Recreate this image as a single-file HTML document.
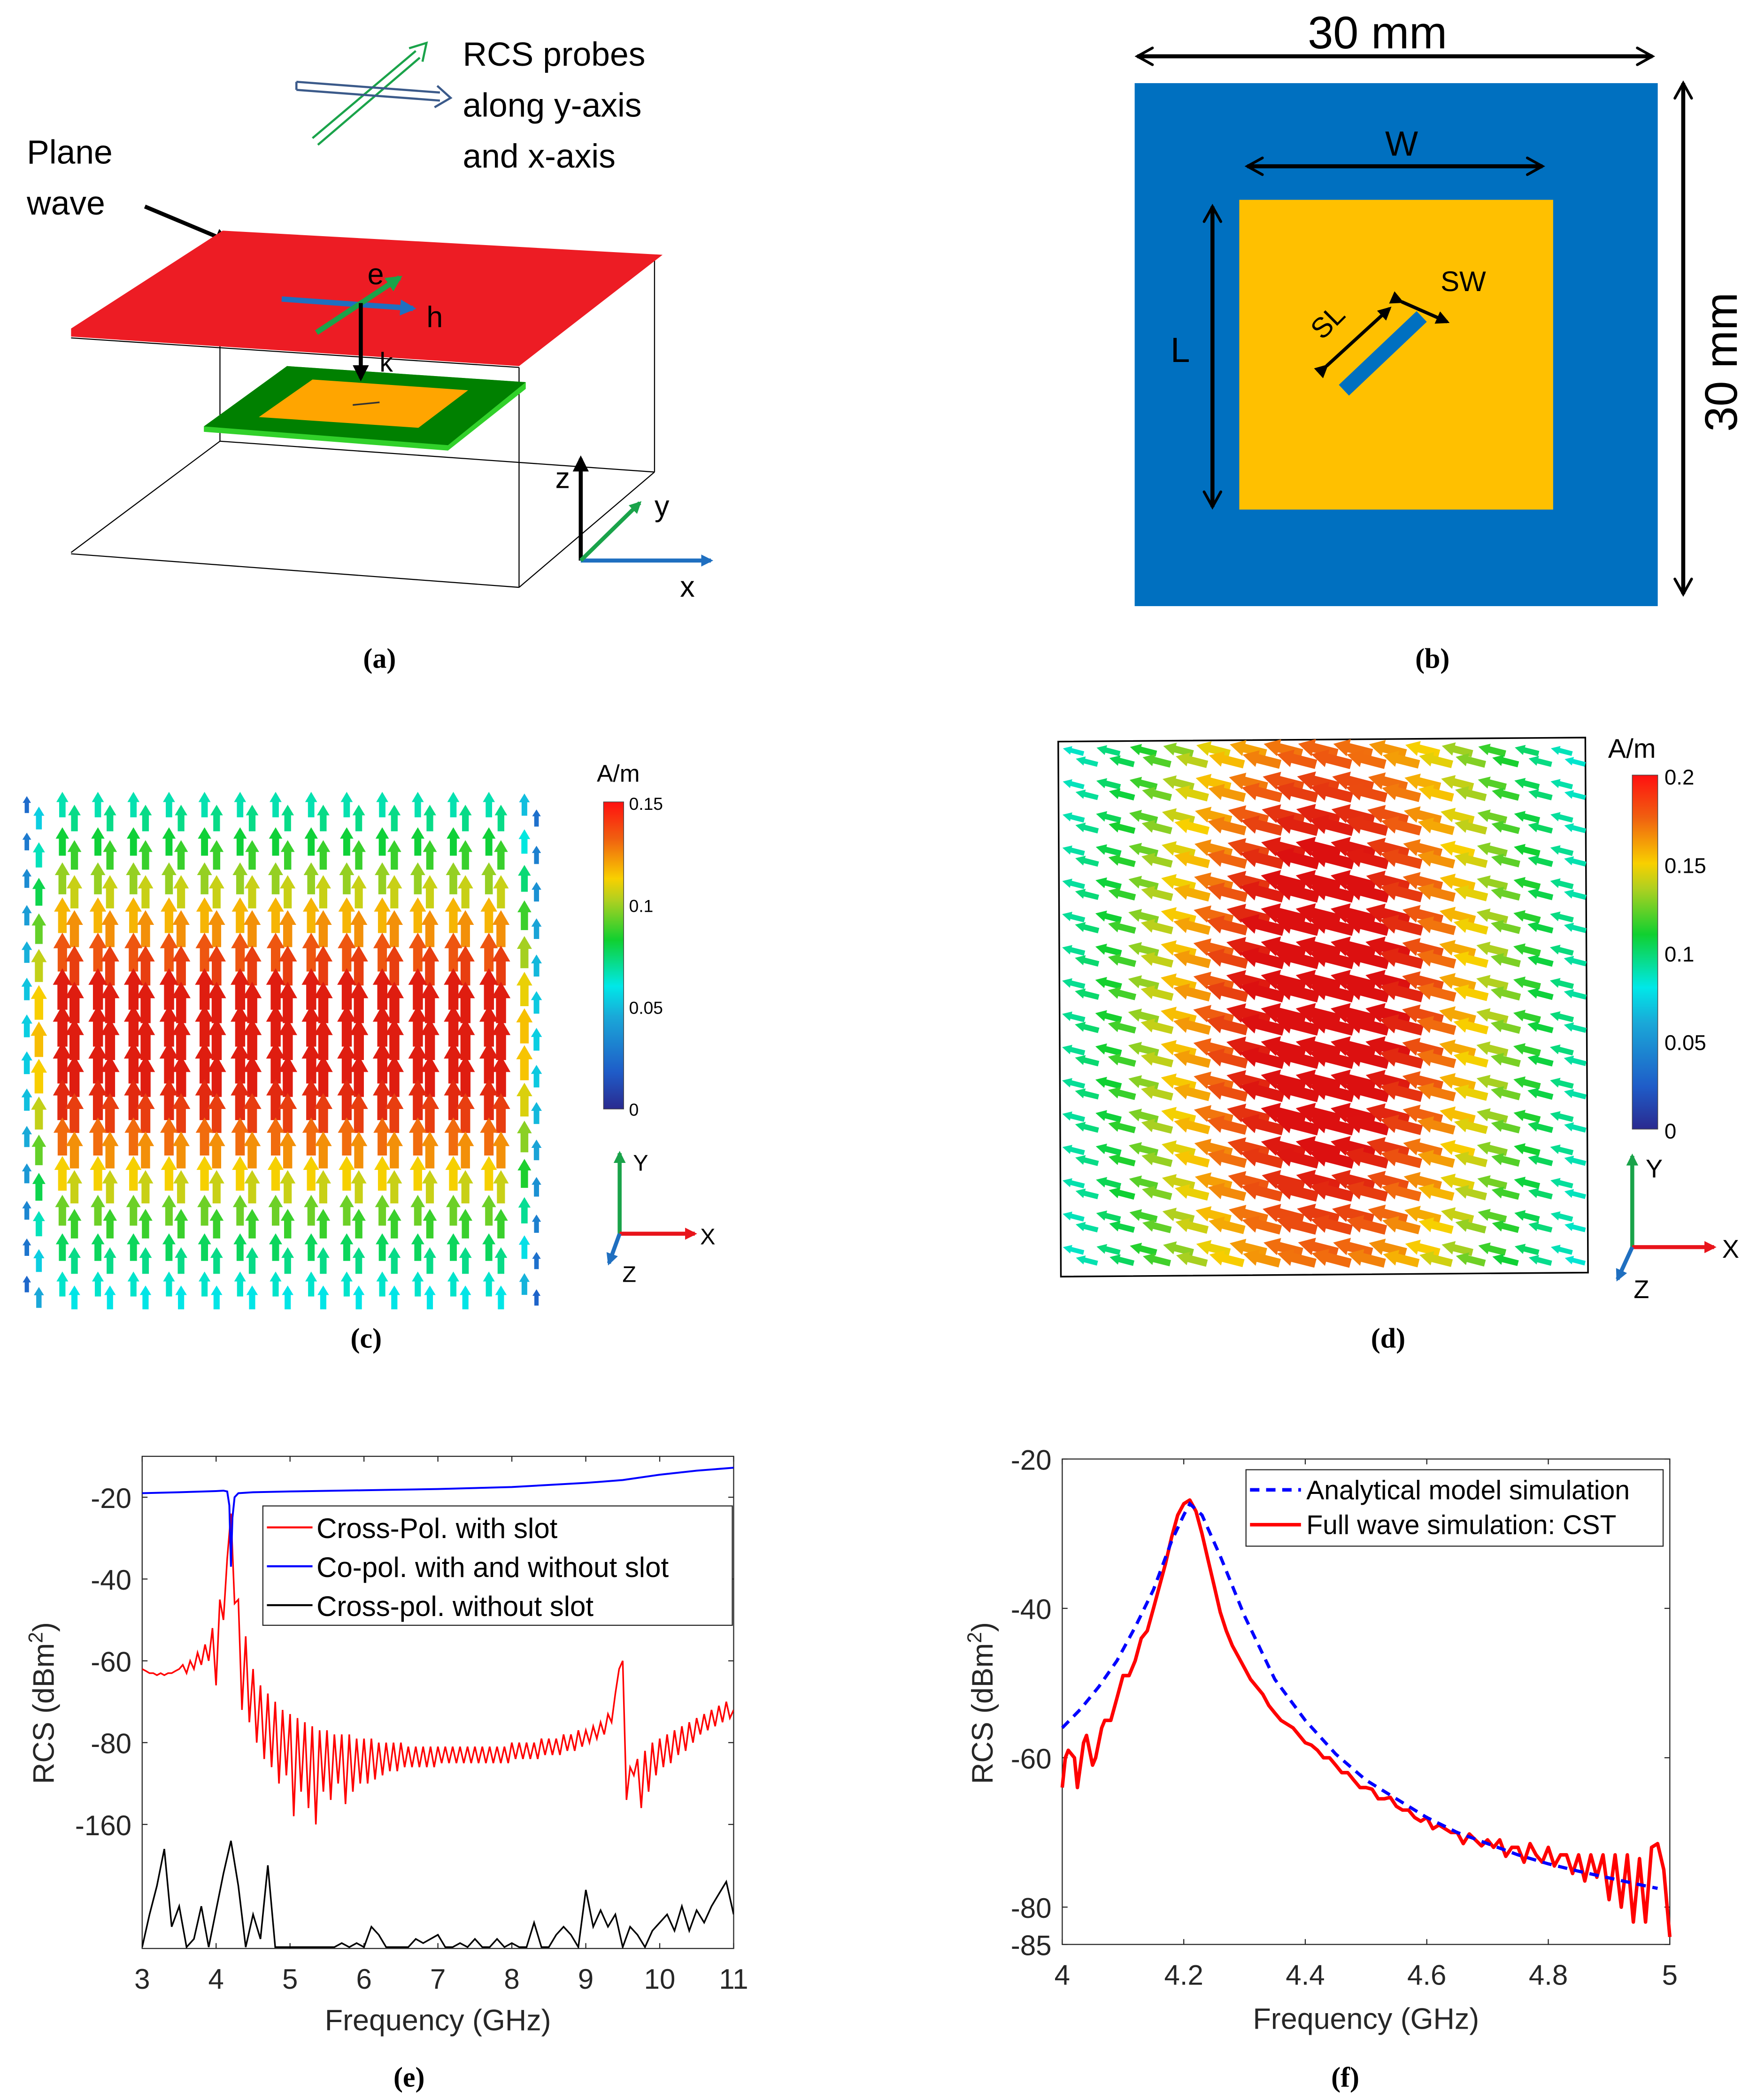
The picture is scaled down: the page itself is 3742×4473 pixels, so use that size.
<!DOCTYPE html>
<html><head><meta charset="utf-8"><style>
html,body{margin:0;padding:0;background:#fff}
svg{display:block}
.t{font-family:"Liberation Sans",sans-serif}
.cap{font-family:"Liberation Serif",serif;font-weight:bold;font-size:21px}
</style></head><body>
<svg id="fig" xmlns="http://www.w3.org/2000/svg" width="3742" height="4473" viewBox="0 0 1310 1566" preserveAspectRatio="none">
<defs>
<marker id="ah" viewBox="0 0 10 10" refX="8" refY="5" markerWidth="4" markerHeight="4" orient="auto"><path d="M0,0 L10,5 L0,10 z" fill="#000"/></marker>
<marker id="ahb" viewBox="0 0 10 10" refX="8" refY="5" markerWidth="3" markerHeight="3" orient="auto"><path d="M0,0 L10,5 L0,10 z" fill="#1f6fc0"/></marker>
<marker id="ahg" viewBox="0 0 10 10" refX="8" refY="5" markerWidth="3" markerHeight="3" orient="auto"><path d="M0,0 L10,5 L0,10 z" fill="#1aa34a"/></marker>
<marker id="ahr" viewBox="0 0 10 10" refX="8" refY="5" markerWidth="3" markerHeight="3" orient="auto"><path d="M0,0 L10,5 L0,10 z" fill="#e8141b"/></marker>
<marker id="oa" viewBox="0 0 12 12" refX="10" refY="6" markerWidth="5" markerHeight="5" orient="auto-start-reverse"><path d="M1,1 L10,6 L1,11" fill="none" stroke="#000" stroke-width="1.6" stroke-linecap="round"/></marker>
<linearGradient id="jet1" x1="0" y1="1" x2="0" y2="0">
<stop offset="0" stop-color="#2a2a8f"/><stop offset="0.12" stop-color="#1f5cc8"/><stop offset="0.3" stop-color="#1aa8d8"/><stop offset="0.4" stop-color="#00e8e8"/><stop offset="0.55" stop-color="#10d030"/><stop offset="0.68" stop-color="#b0d020"/><stop offset="0.75" stop-color="#f8d000"/><stop offset="0.88" stop-color="#f06010"/><stop offset="1" stop-color="#ff1010"/>
</linearGradient>
</defs>

<!-- Panel (a) -->
<g>
  <text class="t" x="20" y="122" font-size="25">Plane</text>
  <text class="t" x="20" y="160" font-size="25">wave</text>
  <text class="t" x="345" y="49" font-size="25">RCS probes</text>
  <text class="t" x="345" y="87" font-size="25">along y-axis</text>
  <text class="t" x="345" y="125" font-size="25">and x-axis</text>
  <line x1="108" y1="154" x2="170" y2="180" stroke="#000" stroke-width="3" marker-end="url(#ah)"/>
  <g>
    <path d="M233,103 L310,38 M237,108 L313,43" stroke="#1aa34a" stroke-width="1.6" fill="none"/>
    <path d="M305,36 L318,32 L315,46" stroke="#1aa34a" stroke-width="1.6" fill="none"/>
  </g>
  <g>
    <path d="M221,61 L328,69 M221,67 L328,75 M221,61 L221,67" stroke="#3b5a8a" stroke-width="1.6" fill="none"/>
    <path d="M326,64 L336,73 L324,80" stroke="#3b5a8a" stroke-width="1.6" fill="none"/>
  </g>
  <g stroke="#000" stroke-width="0.8" fill="none">
    <line x1="164" y1="258" x2="164" y2="329"/>
    <line x1="488" y1="193" x2="488" y2="352"/>
    <line x1="387" y1="274" x2="387" y2="438"/>
    <line x1="53" y1="413" x2="387" y2="438"/>
    <line x1="387" y1="438" x2="488" y2="352"/>
    <line x1="164" y1="329" x2="53" y2="412"/>
    <line x1="164" y1="329" x2="488" y2="352"/>
    <line x1="53" y1="252" x2="387" y2="274"/>
  </g>
  <polygon points="53,245 166,172 494,190 387,273 53,251" fill="#ed1c24"/>
  <polygon points="152,318 214,273 392,285 392,290 334,336 152,322" fill="#31d12a"/>
  <polygon points="152,318 214,273 392,285 334,332" fill="#008000"/>
  <polygon points="193,311 233,283 349,291 312,319" fill="#ffa500"/>
  <line x1="263" y1="302" x2="283" y2="300" stroke="#333" stroke-width="1.2"/>
  <line x1="210" y1="223" x2="308" y2="230" stroke="#1f6fc0" stroke-width="4" marker-end="url(#ahb)"/>
  <line x1="236" y1="248" x2="298" y2="207" stroke="#1aa34a" stroke-width="4" marker-end="url(#ahg)"/>
  <line x1="269" y1="226" x2="269" y2="282" stroke="#000" stroke-width="3" marker-end="url(#ah)"/>
  <text class="t" x="274" y="212" font-size="22">e</text>
  <text class="t" x="318" y="244" font-size="22">h</text>
  <text class="t" x="283" y="277" font-size="20">k</text>
  <line x1="433" y1="418" x2="433" y2="342" stroke="#000" stroke-width="3" marker-end="url(#ah)"/>
  <line x1="433" y1="418" x2="530" y2="418" stroke="#1f6fc0" stroke-width="3" marker-end="url(#ahb)"/>
  <line x1="433" y1="418" x2="477" y2="375" stroke="#1aa34a" stroke-width="3" marker-end="url(#ahg)"/>
  <text class="t" x="414" y="364" font-size="22">z</text>
  <text class="t" x="488" y="385" font-size="22">y</text>
  <text class="t" x="507" y="445" font-size="22">x</text>
  <text class="cap" x="283" y="498" text-anchor="middle">(a)</text>
</g>

<!-- Panel (b) -->
<g>
  <rect x="846" y="62" width="390" height="390" fill="#0070c0"/>
  <rect x="924" y="149" width="234" height="231" fill="#ffc000"/>
  <line x1="1002" y1="291" x2="1060" y2="236" stroke="#0070c0" stroke-width="11"/>
  <line x1="848" y1="42" x2="1232" y2="42" stroke="#000" stroke-width="3" marker-start="url(#oa)" marker-end="url(#oa)"/>
  <text class="t" x="1027" y="36" font-size="34" text-anchor="middle">30 mm</text>
  <line x1="1255" y1="62" x2="1255" y2="443" stroke="#000" stroke-width="3" marker-start="url(#oa)" marker-end="url(#oa)"/>
  <text class="t" x="1295" y="270" font-size="34" text-anchor="middle" transform="rotate(-90 1295 270)">30 mm</text>
  <line x1="930" y1="124" x2="1150" y2="124" stroke="#000" stroke-width="3" marker-start="url(#oa)" marker-end="url(#oa)"/>
  <text class="t" x="1045" y="116" font-size="26" text-anchor="middle">W</text>
  <line x1="904" y1="154" x2="904" y2="378" stroke="#000" stroke-width="3" marker-start="url(#oa)" marker-end="url(#oa)"/>
  <text class="t" x="880" y="270" font-size="26" text-anchor="middle">L</text>
  <line x1="989" y1="273" x2="1036" y2="230" stroke="#000" stroke-width="2.5" marker-start="url(#ah)" marker-end="url(#ah)"/>
  <text class="t" x="995" y="245" font-size="21" text-anchor="middle" transform="rotate(-45 995 245)">SL</text>
  <line x1="1045" y1="225" x2="1079" y2="240" stroke="#000" stroke-width="2.5" marker-start="url(#ah)" marker-end="url(#ah)"/>
  <text class="t" x="1091" y="217" font-size="21" text-anchor="middle">SW</text>
  <text class="cap" x="1068" y="498" text-anchor="middle">(b)</text>
</g>

<!-- Panel (c) -->
<g>
  <g id="quiverC"></g>
  <text class="t" x="445" y="583" font-size="18">A/m</text>
  <rect x="450" y="598" width="15" height="229" fill="url(#jet1)" stroke="#444" stroke-width="0.5"/>
  <text class="t" x="469" y="604" font-size="13">0.15</text>
  <text class="t" x="469" y="680" font-size="13">0.1</text>
  <text class="t" x="469" y="756" font-size="13">0.05</text>
  <text class="t" x="469" y="832" font-size="13">0</text>
  <line x1="462" y1="920" x2="462" y2="860" stroke="#1aa34a" stroke-width="3" marker-end="url(#ahg)"/>
  <line x1="462" y1="920" x2="518" y2="920" stroke="#e8141b" stroke-width="3" marker-end="url(#ahr)"/>
  <line x1="462" y1="920" x2="454" y2="942" stroke="#1f6fc0" stroke-width="3" marker-end="url(#ahb)"/>
  <text class="t" x="472" y="873" font-size="17">Y</text>
  <text class="t" x="522" y="928" font-size="17">X</text>
  <text class="t" x="464" y="956" font-size="17">Z</text>
  <text class="cap" x="273" y="1005" text-anchor="middle">(c)</text>
</g>

<!-- Panel (d) -->
<g>
  <polygon points="789,553 1182,550 1184,949 791,952" fill="none" stroke="#000" stroke-width="1.2"/>
  <g id="quiverD"></g>
  <text class="t" x="1199" y="565" font-size="20">A/m</text>
  <rect x="1217" y="578" width="19" height="264" fill="url(#jet1)" stroke="#444" stroke-width="0.5"/>
  <text class="t" x="1241" y="585" font-size="16">0.2</text>
  <text class="t" x="1241" y="651" font-size="16">0.15</text>
  <text class="t" x="1241" y="717" font-size="16">0.1</text>
  <text class="t" x="1241" y="783" font-size="16">0.05</text>
  <text class="t" x="1241" y="849" font-size="16">0</text>
  <line x1="1217" y1="930" x2="1217" y2="862" stroke="#1aa34a" stroke-width="3" marker-end="url(#ahg)"/>
  <line x1="1217" y1="930" x2="1278" y2="930" stroke="#e8141b" stroke-width="3" marker-end="url(#ahr)"/>
  <line x1="1217" y1="930" x2="1206" y2="954" stroke="#1f6fc0" stroke-width="3" marker-end="url(#ahb)"/>
  <text class="t" x="1227" y="878" font-size="19">Y</text>
  <text class="t" x="1284" y="938" font-size="19">X</text>
  <text class="t" x="1218" y="968" font-size="19">Z</text>
  <text class="cap" x="1035" y="1005" text-anchor="middle">(d)</text>
</g>

<!-- Panel (e) -->
<g id="chartE"></g>
<text class="cap" x="305" y="1556" text-anchor="middle">(e)</text>
<!-- Panel (f) -->
<g id="chartF"></g>
<text class="cap" x="1003" y="1556" text-anchor="middle">(f)</text>
</svg>

<script>
// ===== Chart (e) data =====
const eXTicks = [3,4,5,6,7,8,9,10,11];
const eYTickVals = [-20,-40,-60,-80,-100];
const eYTickLabels = ["-20","-40","-60","-80","-160"];
const eRedStart = 3.0, eRedStep = 0.05;
const eRedValues = [
-62,-62.5,-63,-63,-63.5,-63,-63.5,-63,-63,-62.5,-62,
-61,-63,-60,-62,-58,-61,-56,-60,-52,
-66,-45,-50,-35,
-24,-46,-45,-72,-54,-75,-62,-80,-66,-84,-68,-86,-70,-90,-72,-88,
-73,-98,-74,-92,-75,-96,-76,-100,-77,-92,-77,-94,-78,-90,-78,-95,-78,-92,-79,-90,
-79,-90,-79,-89,-80,-88,-80,-87,-80,-87,-80,-86,-81,-86,-81,-86,-81,-86,-81,-86,
-81,-85,-81,-85,-81,-85,-81,-85,-81,-85,-81,-85,-81,-85,-81,-85,-81,-85,-81,-85,
-80,-84,-80,-84,-80,-84,-80,-84,-79,-83,-79,-83,-79,-83,-78,-82,-78,-82,-77,-81,
-77,-80,-76,-79,-75,-78,-73,-75,-68,-62,-60,-94,-86,-88,-84,-96,-82,-92,-80,-88,
-79,-86,-78,-85,-77,-83,-76,-82,-75,-80,-74,-78,-73,-77,-72,-76,-71,-75,-70,-74,-72
];
const eBlueF = [3,3.5,4,4.1,4.15,4.18,4.2,4.22,4.25,4.3,4.5,5,6,7,8,9,9.5,10,10.5,11];
const eBlueV = [-19,-18.8,-18.5,-18.4,-18.6,-22,-37,-25,-20,-19,-18.8,-18.6,-18.3,-18,-17.5,-16.5,-15.8,-14.5,-13.5,-12.8];
const eBlackStart = 3.0, eBlackStep = 0.1;
const eBlackValues = [
-130,-122,-115,-106,-125,-120,-130,-128,-120,-130,
-121,-112,-104,-115,-130,-122,-128,-110,-130,-130,
-130,-130,-130,-130,-130,-130,-130,-129,-130,-129,
-130,-125,-127,-130,-130,-130,-130,-128,-129,-128,
-127,-130,-130,-129,-130,-128,-130,-130,-128,-130,
-129,-130,-130,-124,-130,-130,-127,-125,-127,-130,
-116,-125,-121,-125,-122,-130,-125,-127,-130,-126,
-124,-122,-126,-120,-126,-121,-124,-120,-117,-114,-122
];
// ===== Chart (f) data =====
const fXTicks = [4,4.2,4.4,4.6,4.8,5];
const fYTicks = [-20,-40,-60,-80,-85];
const fBlueF = [4.0,4.03,4.06,4.09,4.12,4.15,4.18,4.2,4.21,4.23,4.26,4.3,4.35,4.4,4.45,4.5,4.55,4.6,4.65,4.7,4.75,4.8,4.85,4.9,4.95,4.98];
const fBlueV = [-56,-53.5,-50.5,-47,-42.5,-37.5,-31,-27.5,-26,-27.5,-33,-41,-49.5,-55,-59.5,-63,-65.5,-68,-70,-71.5,-73,-74.2,-75.2,-76.1,-77,-77.5];
const fRedF = [4.0,4.005,4.01,4.02,4.025,4.035,4.04,4.05,4.055,4.065,4.07,4.08,4.09,4.1,4.11,4.12,4.13,4.14,4.15,4.16,4.17,4.18,4.19,4.2,4.21,4.22,4.23,4.24,4.25,4.26,4.27,4.28,4.29,4.3,4.31,4.32,4.33,4.34,4.35,4.36,4.37,4.38,4.39,4.4,4.41,4.42,4.43,4.44,4.45,4.46,4.47,4.48,4.49,4.5,4.51,4.52,4.53,4.54,4.55,4.56,4.57,4.58,4.59,4.6,4.61,4.62,4.63,4.64,4.65,4.66,4.67,4.68,4.69,4.7,4.71,4.72,4.73,4.74,4.75,4.76,4.77,4.78,4.79,4.8,4.81,4.82,4.83,4.84,4.85,4.86,4.87,4.88,4.89,4.9,4.91,4.92,4.93,4.94,4.95,4.96,4.97,4.98,4.99,5.0];
const fRedV = [-64,-60,-59,-60,-64,-58,-57,-61,-60,-56,-55,-55,-52,-49,-49,-47,-44,-43,-40,-37,-34,-30.5,-27.5,-26,-25.5,-27,-30,-33.5,-37,-40.5,-43,-45,-46.5,-48,-49.5,-50.5,-51.5,-53,-54,-55,-55.5,-56,-57,-58,-58.3,-59,-60,-60,-61,-62,-62,-63,-64,-64,-64.2,-65.5,-65.5,-65.3,-66.5,-67,-67,-68,-68.5,-68,-69.5,-69,-69.5,-70,-70,-71.5,-70.2,-71,-71.8,-71,-72,-71,-73.2,-72,-72,-74,-71.5,-73,-74,-72,-74.5,-73,-73,-75.5,-73,-76.5,-73,-76,-73,-79,-73,-80,-73,-82,-73.5,-82,-72,-71.5,-75,-84];

const NS = "http://www.w3.org/2000/svg";
function mk(parent, tag, attrs){const e=document.createElementNS(NS,tag);for(const k in attrs)e.setAttribute(k,attrs[k]);parent.appendChild(e);return e;}
function txt(parent, x, y, s, size, anchor){const e=mk(parent,'text',{x:x,y:y,'font-size':size,'text-anchor':anchor||'start','class':'t',fill:'#262626'});e.textContent=s;return e;}

// ---- chart e ----
(function(){
  const g=document.getElementById('chartE');
  const X0=106,X1=547,Y0=1086,Y1=1453;
  const xs=f=>X0+(f-3)/8*(X1-X0);
  const ys=v=>Y0+(-10-v)*3.05;
  const frame=mk(g,'rect',{x:X0,y:Y0,width:X1-X0,height:Y1-Y0,fill:'#fff',stroke:'#262626','stroke-width':0.8});
  
  
  eXTicks.forEach(t=>{const x=xs(t);
    mk(g,'line',{x1:x,y1:Y1,x2:x,y2:Y1-4,stroke:'#262626','stroke-width':0.8});
    mk(g,'line',{x1:x,y1:Y0,x2:x,y2:Y0+4,stroke:'#262626','stroke-width':0.8});
    const l=txt(g,x,Y1+30,String(t),21,'middle');
    
    });
  eYTickVals.forEach((t,i)=>{const y=ys(t);
    mk(g,'line',{x1:X0,y1:y,x2:X0+4,y2:y,stroke:'#262626','stroke-width':0.8});
    mk(g,'line',{x1:X1,y1:y,x2:X1-4,y2:y,stroke:'#262626','stroke-width':0.8});
    const l=txt(g,X0-8,y+8,eYTickLabels[i],21,'end');
    
    });
  const cp=mk(g,'clipPath',{id:'clipE'});mk(cp,'rect',{x:X0,y:Y0,width:X1-X0,height:Y1-Y0});
  const gg=mk(g,'g',{'clip-path':'url(#clipE)'});
  let d='';eBlackValues.forEach((v,i)=>{d+=(i?'L':'M')+xs(eBlackStart+i*eBlackStep).toFixed(1)+','+ys(v).toFixed(1);});
  const bk=mk(gg,'path',{d:d,fill:'none',stroke:'#000','stroke-width':1.2});
  
  
  d='';eRedValues.forEach((v,i)=>{d+=(i?'L':'M')+xs(eRedStart+i*eRedStep).toFixed(1)+','+ys(v).toFixed(1);});
  const rd=mk(gg,'path',{d:d,fill:'none',stroke:'#ff0000','stroke-width':1.2});
  
  
  d='';eBlueF.forEach((f,i)=>{d+=(i?'L':'M')+xs(f).toFixed(1)+','+ys(eBlueV[i]).toFixed(1);});
  const bl=mk(gg,'path',{d:d,fill:'none',stroke:'#0000ff','stroke-width':1.4});
  
  
  const lg=mk(g,'g',{});
  
  
  mk(lg,'rect',{x:196,y:1123,width:350,height:89,fill:'#fff',stroke:'#262626','stroke-width':0.8});
  [['#ff0000','Cross-Pol. with slot'],['#0000ff','Co-pol. with and without slot'],['#000','Cross-pol. without slot']].forEach((it,i)=>{
    const y=1139+i*29;
    mk(lg,'line',{x1:199,y1:y,x2:233,y2:y,stroke:it[0],'stroke-width':1.5});
    const t=txt(lg,236,y+8,it[1],21,'start');t.setAttribute('fill','#000');
    
    
  });
  const xl=txt(g,(X0+X1)/2,1514,'Frequency (GHz)',22,'middle');
  
  
  const yl=mk(g,'text',{x:0,y:0,'font-size':22,'text-anchor':'middle','class':'t',fill:'#262626',transform:'translate(40 1270) rotate(-90)'});
  yl.innerHTML='RCS (dBm<tspan baseline-shift="super" font-size="15">2</tspan>)';
  
  
})();

// ---- chart f ----
(function(){
  const g=document.getElementById('chartF');
  const X0=792,X1=1245,Y0=1088,Y1=1450;
  const xs=f=>X0+(f-4)*(X1-X0);
  const ys=v=>Y0+(-20-v)*((Y1-Y0)/65);
  const frame=mk(g,'rect',{x:X0,y:Y0,width:X1-X0,height:Y1-Y0,fill:'#fff',stroke:'#262626','stroke-width':0.8});
  
  
  fXTicks.forEach(t=>{const x=xs(t);
    mk(g,'line',{x1:x,y1:Y1,x2:x,y2:Y1-4,stroke:'#262626','stroke-width':0.8});
    mk(g,'line',{x1:x,y1:Y0,x2:x,y2:Y0+4,stroke:'#262626','stroke-width':0.8});
    const l=txt(g,x,Y1+30,String(t),21,'middle');
    
    });
  fYTicks.forEach(t=>{const y=ys(t);
    mk(g,'line',{x1:X0,y1:y,x2:X0+4,y2:y,stroke:'#262626','stroke-width':0.8});
    mk(g,'line',{x1:X1,y1:y,x2:X1-4,y2:y,stroke:'#262626','stroke-width':0.8});
    const l=txt(g,X0-8,y+8,String(t),21,'end');
    
    });
  let d='';fRedF.forEach((f,i)=>{d+=(i?'L':'M')+xs(f).toFixed(1)+','+ys(fRedV[i]).toFixed(1);});
  const rd=mk(g,'path',{d:d,fill:'none',stroke:'#ff0000','stroke-width':2.6,'stroke-linejoin':'round'});
  
  
  d='';fBlueF.forEach((f,i)=>{d+=(i?'L':'M')+xs(f).toFixed(1)+','+ys(fBlueV[i]).toFixed(1);});
  const bl=mk(g,'path',{d:d,fill:'none',stroke:'#0000ff','stroke-width':2.4,'stroke-dasharray':'7 5'});
  
  
  const lg=mk(g,'g',{});
  
  
  mk(lg,'rect',{x:929,y:1096,width:311,height:57,fill:'#fff',stroke:'#262626','stroke-width':0.8});
  [['#0000ff','Analytical model simulation','7 5'],['#ff0000','Full wave simulation: CST','']].forEach((it,i)=>{
    const y=1111+i*26;
    const ln=mk(lg,'line',{x1:932,y1:y,x2:970,y2:y,stroke:it[0],'stroke-width':2.6});
    if(it[2])ln.setAttribute('stroke-dasharray',it[2]);
    const t=txt(lg,974,y+7,it[1],20,'start');t.setAttribute('fill','#000');
    
    
  });
  const xl=txt(g,(X0+X1)/2,1513,'Frequency (GHz)',22,'middle');
  
  
  const yl=mk(g,'text',{x:0,y:0,'font-size':22,'text-anchor':'middle','class':'t',fill:'#262626',transform:'translate(740 1270) rotate(-90)'});
  yl.innerHTML='RCS (dBm<tspan baseline-shift="super" font-size="15">2</tspan>)';
  
  
})();

// ---- quiver fields (illustrations) ----
function jet(t){t=Math.max(0,Math.min(1,t));
  const stops=[[0,[42,42,143]],[0.12,[31,92,200]],[0.3,[26,168,216]],[0.4,[0,232,232]],[0.55,[16,208,48]],[0.68,[176,208,32]],[0.75,[248,208,0]],[0.88,[240,96,16]],[1,[220,16,16]]];
  for(let i=1;i<stops.length;i++){if(t<=stops[i][0]){const a=stops[i-1],b=stops[i];const u=(t-a[0])/(b[0]-a[0]);
    return 'rgb('+a[1].map((c,k)=>Math.round(c+(b[1][k]-c)*u)).join(',')+')';}}
  return 'rgb(220,16,16)';}
function arrow(parent,x,y,ang,len,w,col){
  const hl=len*0.4,hw=w*1.9;
  const p=[[0,-w/2],[len-hl,-w/2],[len-hl,-hw/2],[len,0],[len-hl,hw/2],[len-hl,w/2],[0,w/2]];
  const c=Math.cos(ang),s=Math.sin(ang);
  const pts=p.map(q=>(x+q[0]*c-q[1]*s).toFixed(1)+','+(y+q[0]*s+q[1]*c).toFixed(1)).join(' ');
  mk(parent,'polygon',{points:pts,fill:col});
}
(function(){
  const g=document.getElementById('quiverC');
  for(let r=0;r<14;r++){for(let c=0;c<15;c++){for(let k=0;k<2;k++){
    const x=20+c*26.5+k*9, y=600+r*27.5+k*10;
    const vy=Math.exp(-Math.pow((y-775)/150,2));
    const ex=(c===0&&k===0)||(c===14&&k===1)?0.35:((c===0||c===14)?0.75:1);
    const m=(0.25+0.8*vy)*ex;
    const len=9+22*Math.min(1,m), w=2.5+5*Math.min(1,m);
    arrow(g,x,y+len/2,-Math.PI/2,len,w,jet(Math.min(1,m)*0.98));
  }}}
})();
(function(){
  const g=document.getElementById('quiverD');
  for(let r=0;r<16;r++){for(let c=0;c<15;c++){for(let k=0;k<2;k++){
    const x=800+c*26+k*10, y=562+r*24.8+k*8;
    const vx=Math.exp(-Math.pow((x-985)/150,2));
    const vy=1-0.3*Math.pow((y-750)/200,2);
    const m=Math.max(0.1,Math.min(1,1.12*vx*vy));
    const len=12+22*m, w=2.5+5.5*m;
    arrow(g,x+len/2,y,Math.PI+0.25,len,w,jet(0.3+0.7*m));
  }}}
})();
</script>
</body></html>
